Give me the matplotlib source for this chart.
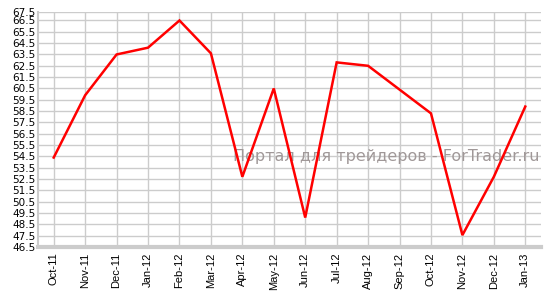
import matplotlib
matplotlib.use('Agg')
import matplotlib.pyplot as plt
import numpy as np

# monthly series
months = ['Oct-11', 'Nov-11', 'Dec-11', 'Jan-12', 'Feb-12', 'Mar-12', 'Apr-12', 'May-12',
          'Jun-12', 'Jul-12', 'Aug-12', 'Sep-12', 'Oct-12', 'Nov-12', 'Dec-12', 'Jan-13']
values = [54.4, 59.9, 63.5, 64.1, 66.5, 63.6, 52.7, 60.5,
          49.1, 62.8, 62.5, 60.4, 58.3, 47.55, 52.7, 58.9]
ytick_vals = list(np.arange(46.5, 67.0, 1.0))
ytick_labels = ['%.1f' % v for v in ytick_vals]
watermark = 'Портал для трейдеров - ForTrader.ru'

fig = plt.figure(figsize=(5.47, 2.93), dpi=100)
ax = fig.add_axes([38/547, 1-247/293, (541-38)/547, (247-12)/293])

x = np.arange(len(months))
ax.plot(x, values, color='#ff0000', lw=1.8, zorder=5, solid_joinstyle='miter')

ax.set_xlim(-0.5, len(months) - 0.5)
ax.set_ylim(46.5, 67.25)
ax.set_xticks(x)
ax.set_xticklabels(months, rotation=90, fontsize=8, family='Liberation Sans')
ax.set_yticks(ytick_vals + [67.25])
ax.set_yticklabels(ytick_labels + ['67.5'], fontsize=7.5, family='DejaVu Sans')
ax.tick_params(length=0, pad=2)
ax.tick_params(axis='x', pad=4)

ax.grid(True, color='#cccccc', lw=1)
ax.set_axisbelow(True)
for s in ['top', 'right']:
    ax.spines[s].set_visible(False)
ax.spines['left'].set_color('#cccccc')
ax.spines['left'].set_linewidth(1.5)
ax.spines['bottom'].set_color('#cccccc')
ax.spines['bottom'].set_linewidth(3)

ax.text(0.998, 0.385, watermark, transform=ax.transAxes, ha='right', va='center',
        fontsize=11.5, color='#a09898', family='DejaVu Sans', zorder=4)

fig.savefig('out.png', dpi=100)
